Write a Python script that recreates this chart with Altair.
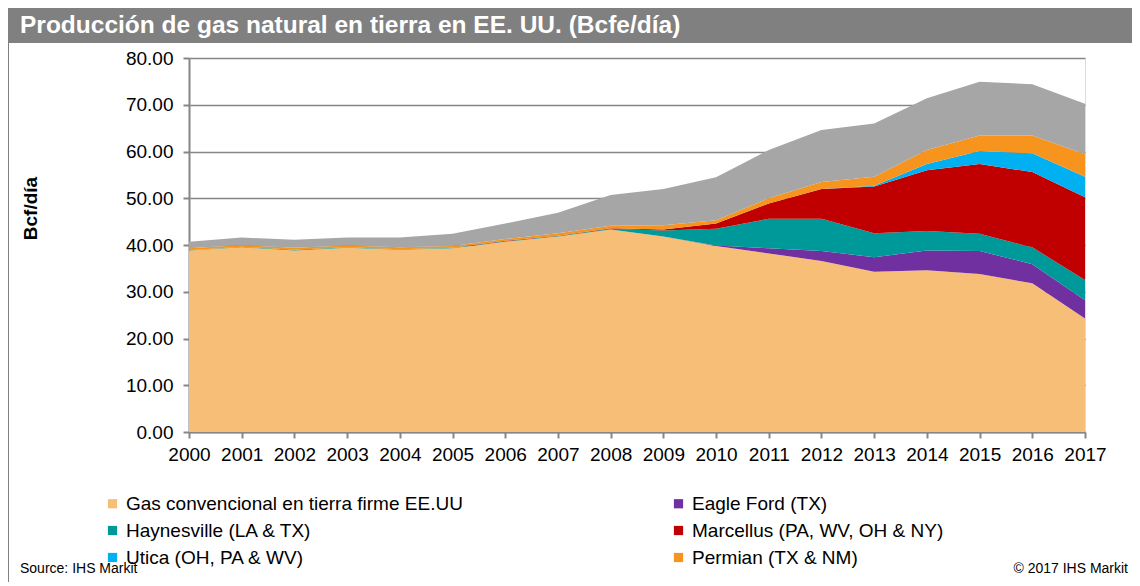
import altair as alt
import pandas as pd

years = list(range(2000, 2018))

series_names = [
    "Gas convencional en tierra firme EE.UU",
    "Eagle Ford (TX)",
    "Haynesville (LA & TX)",
    "Marcellus (PA, WV, OH & NY)",
    "Utica (OH, PA & WV)",
    "Permian (TX & NM)",
    "Otros",
]
series_colors = ["#F7BE78", "#7030A0", "#009999", "#C00000", "#00B0F0", "#F7941D", "#A6A6A6"]

convencional = [38.8, 39.5, 38.8, 39.4, 39.0, 39.3, 40.7, 41.8, 43.3, 41.8, 39.8, 38.2, 36.6, 34.3, 34.6, 33.8, 31.8, 24.3]
eagle_ford   = [0.0, 0.0, 0.0, 0.0, 0.0, 0.0, 0.0, 0.0, 0.0, 0.0, 0.1, 1.1, 2.1, 3.1, 4.2, 4.9, 4.1, 3.9]
haynesville  = [0.1, 0.1, 0.2, 0.1, 0.1, 0.1, 0.1, 0.1, 0.2, 1.3, 3.6, 6.3, 6.9, 5.1, 4.2, 3.7, 3.6, 4.3]
marcellus    = [0.0, 0.0, 0.0, 0.0, 0.0, 0.0, 0.1, 0.1, 0.1, 0.2, 1.1, 3.3, 6.4, 10.0, 13.0, 14.9, 16.1, 17.7]
utica        = [0.0, 0.0, 0.0, 0.0, 0.0, 0.0, 0.0, 0.0, 0.0, 0.0, 0.0, 0.0, 0.0, 0.2, 1.3, 2.8, 4.0, 4.4]
permian      = [0.4, 0.4, 0.4, 0.4, 0.4, 0.4, 0.4, 0.5, 0.5, 0.9, 0.7, 1.1, 1.5, 1.9, 3.0, 3.3, 3.8, 4.8]
otros        = [1.4, 1.6, 1.7, 1.7, 2.1, 2.6, 3.3, 4.4, 6.6, 7.8, 9.2, 10.3, 11.1, 11.4, 11.1, 11.5, 11.0, 10.8]

y_ticks = [0, 10, 20, 30, 40, 50, 60, 70, 80]

title_text = "Producción de gas natural en tierra en EE. UU. (Bcfe/día)"
y_title = "Bcf/día"
source_text = "Source: IHS Markit"
copyright_text = "© 2017 IHS Markit"

all_series = [convencional, eagle_ford, haynesville, marcellus, utica, permian, otros]
rows = []
for i, (name, vals) in enumerate(zip(series_names, all_series)):
    for yr, v in zip(years, vals):
        rows.append({"anio": yr, "serie": name, "orden": i, "valor": v})
df = pd.DataFrame(rows)

FONT = "Liberation Sans"
GRID = "#868686"

areas = alt.Chart(df).mark_area(opacity=1).encode(
    x=alt.X("anio:Q",
            scale=alt.Scale(domain=[2000, 2017], nice=False, zero=False),
            axis=alt.Axis(values=years, format="d", title=None, grid=False,
                          labelFontSize=19, labelFont=FONT, labelColor="#000000",
                          domainColor=GRID, domainWidth=2, tickColor=GRID, tickWidth=2,
                          tickSize=6, labelPadding=7, labelFlush=False)),
    y=alt.Y("valor:Q", stack="zero",
            scale=alt.Scale(domain=[0, 80], nice=False),
            axis=alt.Axis(values=y_ticks, format=".2f", title=y_title,
                          titleFontSize=19, titleFont=FONT, titleFontWeight="bold",
                          titleColor="#000000", titleX=-149, titleY=150,
                          labelFontSize=19, labelFont=FONT, labelColor="#000000",
                          gridColor=GRID, gridWidth=1.5, domainColor=GRID, domainWidth=2,
                          tickColor=GRID, tickWidth=2, tickSize=6, labelPadding=10)),
    color=alt.Color("serie:N",
                    scale=alt.Scale(domain=series_names, range=series_colors),
                    legend=alt.Legend(values=series_names[:6], title=None, orient="none",
                                      direction="horizontal",
                                      legendX=-86, legendY=436, columns=2,
                                      symbolType="square", symbolSize=85,
                                      symbolStrokeWidth=0, labelFontSize=19,
                                      labelFont=FONT, labelColor="#000000",
                                      rowPadding=7, columnPadding=206, labelLimit=500,
                                      labelOffset=4)),
    order=alt.Order("orden:Q", sort="ascending"),
)

deco_df = pd.DataFrame({"k": [0]})
base = alt.Chart(deco_df)

title_bar = base.mark_rect(color="#808080").encode(
    x=alt.value(-181), x2=alt.value(960), y=alt.value(-51), y2=alt.value(-15))
left_border = base.mark_rect(color="#808080").encode(
    x=alt.value(-182), x2=alt.value(-180), y=alt.value(-15), y2=alt.value(540))
title_mark = base.mark_text(text=title_text, align="left", baseline="middle",
                            font=FONT, fontSize=24.5, fontWeight="bold",
                            color="#FFFFFF").encode(x=alt.value(-169), y=alt.value(-32))
source_mark = base.mark_text(text=source_text, align="left", baseline="alphabetic",
                             font=FONT, fontSize=14, color="#000000").encode(
    x=alt.value(-169), y=alt.value(515))
copy_mark = base.mark_text(text=copyright_text, align="right", baseline="alphabetic",
                           font=FONT, fontSize=14, color="#000000").encode(
    x=alt.value(939), y=alt.value(515))

chart = alt.layer(areas, title_bar, left_border, title_mark, source_mark, copy_mark).properties(
    width=896, height=374,
    autosize=alt.AutoSizeParams(type="none"),
    padding={"left": 181, "top": 50, "right": 47, "bottom": 150},
).configure_view(stroke=None).configure(background="#FFFFFF")

chart.save("out.html", embed_options={"renderer": "svg", "actions": False})
